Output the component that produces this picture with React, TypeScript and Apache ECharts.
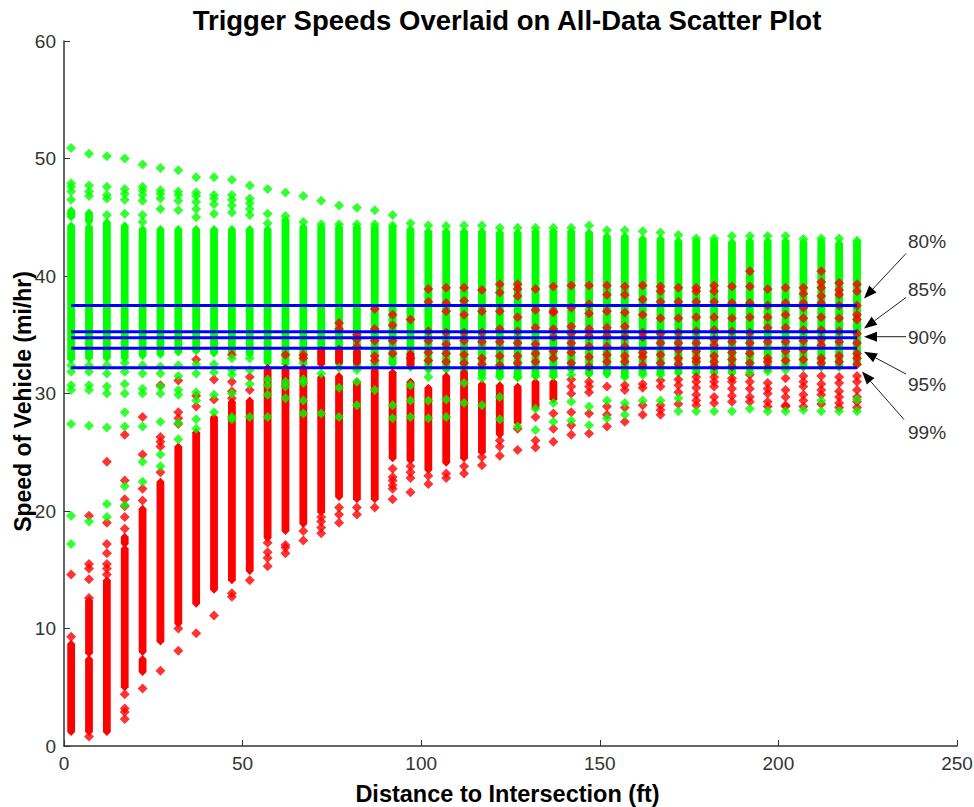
import React, { useEffect, useRef } from "react";
import * as echarts from "echarts";

const title = "Trigger Speeds Overlaid on All-Data Scatter Plot";
const xName = "Distance to Intersection (ft)";
const yName = "Speed of Vehicle (mi/hr)";
const GREEN = "#00ff00";
const RED = "#ff0000";
const BLUE = "#0000ff";

const distances = [2,7,12,17,22,27,32,37,42,47,52,57,62,67,72,77,82,87,92,97,102,107,112,117,122,127,132,137,142,147,152,157,162,167,172,177,182,187,192,197,202,207,212,217,222];

const triggerSpeeds = [37.5, 35.25, 34.75, 33.85, 32.2];
const triggerLabels = ["80%", "85%", "90%", "95%", "99%"];

// solid runs of overlapping green points: [low, high] per distance
const greenRuns: number[][][] = [
  [[32.9,44.3],[45,45.6]],[[33,44.2],[44.6,45.4]],[[33,44.6]],[[33,44.3]],[[33.2,44]],[[33.3,44]],[[33.5,44]],[[33.6,44]],[[33.4,44]],[[33.5,44]],[[33.3,44]],
  [[32.6,44]],[[32.5,44.8]],[[32.5,44.2]],[[33,44.2]],[[32.5,44.2]],[[32.2,44.2]],[[32.2,44.2]],[[32.5,44.2]],[[32.2,44]],[[32,43.8]],[[32,43.8]],
  [[31.8,43.8]],[[31.5,43.8]],[[31.5,43.7]],[[31.3,43.7]],[[31.5,43.8]],[[31.5,43.8]],[[32,43.8]],[[31.6,43.7]],[[31.6,43.4]],[[31.5,43.4]],[[31.7,43.2]],
  [[31.7,43.2]],[[31.7,43]],[[31.7,43]],[[31.7,43]],[[31.7,42.9]],[[32,43]],[[32,43]],[[32.2,43]],[[32.2,42.9]],[[32.2,43]],[[32.2,42.8]],[[32.4,42.9]],
];

// solid runs of overlapping red points: [low, high] per distance
const redRuns: number[][][] = [
  [[1.2,8.7]],[[1.2,7.4],[7.9,12.4]],[[1.2,14.1]],[[5,16.8],[17.2,17.8]],[[6.3,7.4],[8,20.2]],[[8.9,22.5]],[[10.4,25.5]],[[12.1,26.7]],[[13.3,28]],[[14.1,29.3]],[[14.9,29.4]],
  [[17.7,32.2]],[[18.3,32.2]],[[18.9,32.2]],[[19.9,31.4],[32.5,33.7]],[[21.2,31.5],[32.6,33.8]],[[21,31],[32.6,33.6]],[[21,32]],[[24.5,31.8]],[[24.3,31],[32.4,33.4]],[[23.5,30.5]],[[24.1,31.5]],
  [[24.5,31.8]],[[25,30.8]],[[26.5,30.7]],[[27.5,30.6]],[[28.8,31]],[[29.5,31]],[],[],[],[],[],
  [],[],[],[],[],[],[],[],[],[],[],[],
];

// separately visible red points per distance
const redPoints: number[][] = [
  [14.6,9.3],[19.6,15.5,15.1,14.2,12.6,0.8],[24.2,19,17.2,16.4,15.5,15.1,14.6],[26.5,22.6,21,20.4,19.5,18.5,4.4,3.2,2.9,2.3],[28,24.8,21.9,20.9,4.9],[30.7,26.3,25.9,25.5,23.3,6.4],[31.1,28.4,27.9,27.4,10,8.1],[32.9,29.8,28.9,9.6],[31.2,29.5,11.1],[33.3,31,30.2,29.6,13,12.7],[31.4,30.3,14.1],
  [17.3,16.5,16,15.3],[33.3,17.1,16.9,16.4],[33.3,33,18.3,17.5],[19.5,19.1,18.6,18.1],[36,35.5,20.3,19.7,19],[35,34.6,34,20.3,19.7],[37.2,35.5,34.5,33.2,32.8,20.3],[36.7,35.8,34.5,33.4,23.6,22.9,22.6,22.2,21.9,21],[36.3,33,23.8,23.3,22.8,21.6],[38.9,37.8,35.3,34.5,33.5,32.8,23,22.3],[39,37.7,37,35.2,34.2,33.4,32.7,23.2,22.8],
  [39,37.9,36.7,35.2,34.5,33.3,32.6,23.8,23.2],[38.8,37,35.2,34.4,33,32.5,24.6,23.9],[39.3,38.6,37,35.5,34.4,33.2,32.4,26,25.5,24.7],[39.3,38.9,38.3,36.5,35.3,34.3,33.2,32.6,27,25.2],[38.9,37.1,35.6,34.2,33.4,32.7,28,26,25.4],[39.1,37,36.9,35.5,34.8,33.6,33,28.3,27,25.9],[39.2,37.3,35.7,35.1,34.3,33.5,32.6,31.2,30.6,30,28.4,27.3,26.5],[39.2,37.6,36.8,35.5,34.9,34,33.1,32.3,31,30.6,30.1,28.3,26.6],[39.2,38.4,37,35.6,34.9,34,33.3,32.7,30.6,28.9,28.2,27.2],[39.1,38.4,36.9,35.7,34.8,34,33.2,32.7,30.7,30.3,28.8,27.6],[39.2,38,36.7,35.2,34.8,33.5,33.1,32.4,30.8,30.5,29,28.2],
  [39.1,38.7,37.8,36.4,35.1,34.3,33.3,32.6,31.1,30.6,29,28.6,28.2],[39,37.8,36.4,35.2,34.3,33.7,33,32.5,31.2,30.7,30.1,29.1],[39,38.7,37.8,36.5,35.3,34.3,33.6,33,32.7,31.4,31,30.5,29.9,29.4,29],[39.2,38.7,37.8,36.5,35.4,34.6,34.1,33.2,32.7,32.3,31.4,31,30.6,29.7,29.2],[39.1,37.7,36.4,35.3,34.4,33.5,32.9,32.3,31.3,31,30.4,29.8,29.3],[40.4,39.1,37.7,36.5,35.2,34.3,33.4,32.6,31.6,31,30.4,29.7,29.3],[38.9,37.5,36.5,35.6,34.4,33,32.7,32.2,30.9,30.4,30,29.3,28.9],[39,37.7,36.7,35.6,34.4,33.6,32.8,31.3,30.3,29.7,29,28.9],[39,38.5,37.7,37.3,36.4,35.4,34.5,33.7,32.9,31.5,31,30.6,29.9,29.4,28.9],[40.4,39.5,39,38.3,37.7,36.5,35.4,34.6,34.1,33,32.6,31.5,30.8,30.3,29.9,29.1],[39.4,38.8,38.4,37.5,36.4,35.3,34.4,33.2,32.7,31.4,30.9,30.2,29.7,29.2,28.8],[39.3,38.7,37.5,36.7,36.3,35.1,34.3,33.4,33,32.5,31.5,31,30.3,29.7,29.3,28.8],
];

// separately visible green points per distance
const greenPoints: number[][] = [
  [50.9,47.9,47.6,47.2,46.5,45.3,32.4,31.85,30.7,30.3,27.4,19.6,17.2],[50.4,47.7,47.2,46.8,32.4,31.85,30.7,30.3,27.25,19.1],[50.2,47.6,46.9,46.6,45.2,32.4,31.7,30.6,30,27.1,20.6,19.5],[50,47.4,47,46.5,45.3,32.6,31.85,30.8,30,28.4,27.2,22.1,20.5],[49.5,47.6,47.3,46.9,46.4,45.2,44.6,32.4,31.7,30.4,30,27.2,24.2,22.5],[49.2,47.3,47,46.6,45.7,32.3,31.7,30.6,30,27.6,24.8,23.8],[49,47.2,46.9,46.4,45.6,32.4,31.5,30.3,29.9,27.5,26.1],[48.4,47.1,46.8,46.3,45.7,45,32.5,31.7,30.1,29.4,27.8,27],[48.4,46.9,46.6,46.1,45.3,32.5,31.8,29.9,28.4],[48.2,46.9,46.5,46,45.4,33,32,31.6,30,28,27.8],[47.7,46.6,46.2,45.7,45.2,33,32,30.8,28],
  [47.4,45.3,44.5,31.2,30.7,29.9,28],[47.1,45.1,31,30.6,29.6],[46.8,44.6,31.2,30.9,29.4,28.3],[46.4,44.4,31.7,28.3],[46,44.4,32.2,30.5,28],[45.8,44.4,32,31,29],[45.6,44.4,30.3],[45.2,44.3,29,27.9],[44.5,30.7,29.4,28],[44.3,31.4,29.4,27.9],[44.25,29.5,28],
  [44.3,30.9,29.2],[44.3,31.3,29],[44.1,31.4,29.7,27.8],[44.1,31.4,27.2],[44.1,31.5,28.7,26.9],[44.1,31.5,29.2,27.6],[44.1,31.6,29.3,27.7],[44.3,28.9,27.3],[43.9,29.4,27.9],[43.9,31.4,29.2,28.2],[43.8,31.6,29.4],
  [43.7,31.6,29.4],[43.5,29.6,28.5],[43.2,28.5],[43.2,28.5],[43.4,28.5],[43.4,31.8,28.7],[43.4,31.9,28.5],[43.4,32,28.5],[43.15,28.6],[43.2,29.4,28.5],[43.2,28.5],[43,29.5,28.5],
];

// annotation arrows in page pixels: [textX, tailX, tailY, tipX, tipY, textY]
const arrows = [
  [908, 906, 253.5, 864, 298.5, 241],
  [908, 906, 297.5, 864, 328.5, 289],
  [908, 906, 336.7, 864, 336.7, 337],
  [908, 906, 374, 864, 351.7, 384.5],
  [908, 904, 419.5, 862, 371.5, 432.5],
];

const runsData = (runs: number[][][]) =>
  runs.flatMap((list, i) => list.map(([lo, hi]) => [distances[i], lo, hi]));
const pointsData = (pts: number[][]) =>
  pts.flatMap((list, i) => list.map((v) => [distances[i], v]));

// a run of overlapping diamonds: straight sides, pointed ends
const renderRun = (_: any, api: any) => {
  const a = api.coord([api.value(0), api.value(2)]);
  const b = api.coord([api.value(0), api.value(1)]);
  const x = a[0];
  const hw = 3.9;
  return {
    type: "polygon",
    shape: {
      points: [
        [x, a[1] - 4],
        [x + hw, a[1]],
        [x + hw, b[1]],
        [x, b[1] + 4],
        [x - hw, b[1]],
        [x - hw, a[1]],
      ],
    },
    style: { fill: api.visual("color") },
  };
};

const arrowGraphics = () =>
  arrows.flatMap(([tx, x0, y0, x1, y1, ty], i) => {
    const len = Math.hypot(x1 - x0, y1 - y0);
    const ux = (x1 - x0) / len;
    const uy = (y1 - y0) / len;
    const bx = x1 - ux * 13;
    const by = y1 - uy * 13;
    return [
      { type: "line", shape: { x1: x0, y1: y0, x2: bx, y2: by }, style: { stroke: "#222", lineWidth: 1 } },
      {
        type: "polygon",
        shape: { points: [[x1, y1], [bx - uy * 5, by + ux * 5], [bx + uy * 5, by - ux * 5]] },
        style: { fill: "#000" },
      },
      {
        type: "text",
        x: tx,
        y: ty,
        style: {
          text: triggerLabels[i],
          fill: "#333",
          font: '19px "Liberation Sans"',
          textVerticalAlign: "middle",
        },
      },
    ];
  });

const axisCommon = {
  axisLine: { show: true, onZero: false, lineStyle: { color: "#333", width: 1.5 } },
  axisTick: { show: true, inside: true, length: 6, lineStyle: { color: "#333", width: 1 } },
  axisLabel: { color: "#333", fontSize: 19, fontFamily: "Liberation Sans", margin: 8 },
  splitLine: { show: false },
  nameLocation: "middle" as const,
  nameMoveOverlap: false,
};
const nameFont = { color: "#000", fontWeight: "bold" as const, fontFamily: "Liberation Sans" };

export default function App() {
  const ref = useRef<HTMLDivElement>(null);
  useEffect(() => {
    const chart = echarts.init(ref.current!, undefined, { renderer: "svg" });
    chart.setOption({
      animation: false,
      backgroundColor: "#fff",
      title: {
        text: title,
        left: 502,
        top: 1,
        textAlign: "center",
        textStyle: { color: "#000", fontWeight: "bold", fontSize: 27.5, fontFamily: "Liberation Sans" },
      },
      grid: { left: 64, right: 17, top: 41, bottom: 61, outerBoundsMode: "none" },
      xAxis: { ...axisCommon, type: "value", min: 0, max: 250, interval: 50, name: xName, nameGap: 36, nameTextStyle: { ...nameFont, fontSize: 23.5, padding: [0, 6, 0, 0] } },
      yAxis: { ...axisCommon, type: "value", min: 0, max: 60, interval: 10, name: yName, nameGap: 30, nameTextStyle: { ...nameFont, fontSize: 23, padding: [0, 16, 0, 0] } },
      series: [
        { type: "custom", name: "All data runs", renderItem: renderRun, data: runsData(greenRuns), itemStyle: { color: GREEN }, encode: { x: 0, y: [1, 2] }, clip: false, z: 2 },
        { type: "custom", name: "Trigger runs", renderItem: renderRun, data: runsData(redRuns), itemStyle: { color: RED }, encode: { x: 0, y: [1, 2] }, clip: false, z: 3 },
        { type: "scatter", name: "Trigger", symbol: "diamond", symbolSize: 10, data: pointsData(redPoints), itemStyle: { color: RED }, z: 4 },
        { type: "scatter", name: "All data", symbol: "diamond", symbolSize: 10, data: pointsData(greenPoints), itemStyle: { color: GREEN }, z: 5 },
        ...triggerSpeeds.map((v, i) => ({
          type: "line",
          name: triggerLabels[i],
          data: [[distances[0], v], [distances[distances.length - 1], v]],
          showSymbol: false,
          lineStyle: { color: BLUE, width: 3 },
          z: 6,
        })),
      ],
      graphic: arrowGraphics(),
    });
    return () => chart.dispose();
  }, []);
  return <div ref={ref} style={{ position: "absolute", left: 0, top: 0, width: 974, height: 807 }} />;
}
